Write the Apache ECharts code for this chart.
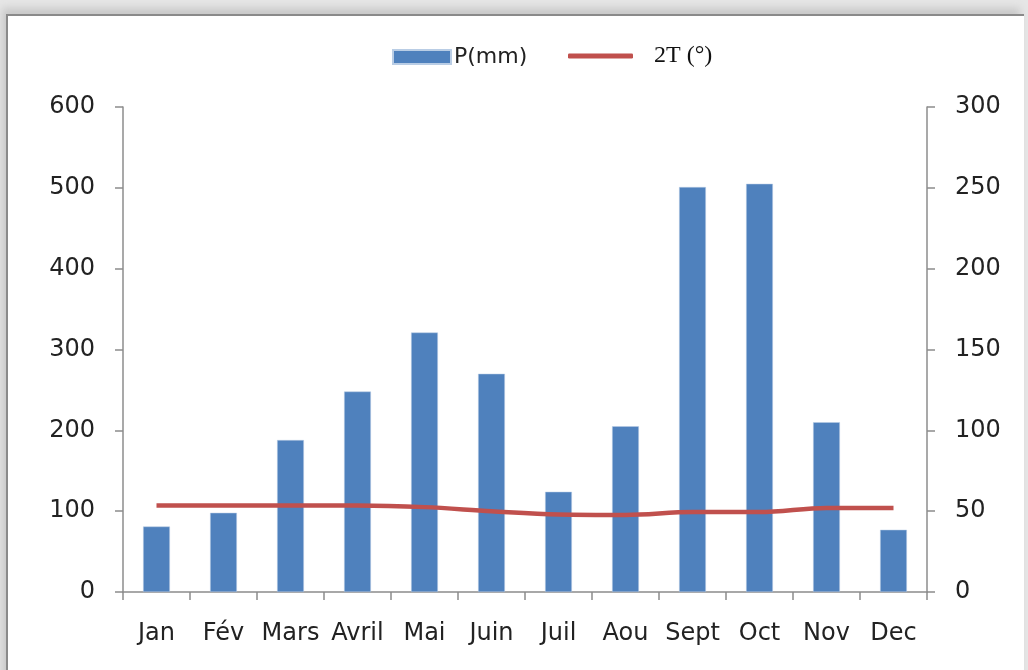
<!DOCTYPE html>
<html>
<head>
<meta charset="utf-8">
<script src="https://cdn.jsdelivr.net/npm/echarts@6/dist/echarts.min.js"></script>
<style>
    html, body { margin: 0; padding: 0; background: #e6e6e6; }
    #frame {
        position: absolute; left: 6px; top: 14px; width: 1016px; height: 670px;
        background: #fff; border-left: 2px solid #8a8a8a; border-top: 2px solid #8a8a8a;
        box-shadow: -4px -6px 8px #c8c8c8;
    }
    #chart { position: absolute; left: 0; top: 0; width: 1028px; height: 670px; }
</style>
</head>
<body>
<div id="frame"></div>
<div id="chart"></div>
<script>
// 数据
var months = ['Jan', 'Fév', 'Mars', 'Avril', 'Mai', 'Juin', 'Juil', 'Aou', 'Sept', 'Oct', 'Nov', 'Dec'];
var precip = [81, 98, 188, 248, 321, 270, 124, 205, 501, 505, 210, 77];
var temp2 = [53.5, 53.5, 53.5, 53.5, 52.5, 50, 48, 47.7, 49.5, 49.5, 52, 52];
var leftTicks = [0, 600, 100];   // min, max, interval
var rightTicks = [0, 300, 50];

var chart = echarts.init(document.getElementById('chart'));
var axisGrey = '#8c8c8c';
var tickFont = { color: '#222', fontSize: 24, fontFamily: 'DejaVu Sans' };

var option = {
    backgroundColor: 'transparent',
    animation: false,
    legend: [
        {
            top: 41,
            left: 387,
            itemWidth: 58,
            itemHeight: 14,
            itemGap: 4,
            data: [{ name: 'P(mm)', icon: 'rect' }],
            textStyle: { fontFamily: 'DejaVu Sans', fontSize: 22, color: '#222', padding: [0, 0, 0, -2] }
        },
        {
            top: 39,
            left: 563,
            itemWidth: 65,
            itemHeight: 5,
            itemGap: 0,
            data: [{ name: '2T (°)', icon: 'roundRect' }],
            textStyle: { fontFamily: 'Liberation Serif', fontSize: 24, color: '#111', padding: [0, 0, 0, 16] }
        }
    ],
    grid: { left: 123, right: 101, top: 107, bottom: 78, containLabel: false },
    xAxis: {
        type: 'category',
        data: months,
        axisLine: { lineStyle: { color: axisGrey, width: 1.5 } },
        axisTick: { show: true, length: 8, alignWithLabel: false, lineStyle: { color: axisGrey, width: 1.5 } },
        axisLabel: Object.assign({ margin: 30, interval: 0 }, tickFont)
    },
    yAxis: [
        {
            type: 'value',
            min: leftTicks[0], max: leftTicks[1], interval: leftTicks[2],
            splitLine: { show: false },
            axisLine: { show: true, lineStyle: { color: axisGrey, width: 1.5 } },
            axisTick: { show: true, length: 8, lineStyle: { color: axisGrey, width: 1.5 } },
            axisLabel: Object.assign({ margin: 28 }, tickFont)
        },
        {
            type: 'value',
            position: 'right',
            min: rightTicks[0], max: rightTicks[1], interval: rightTicks[2],
            splitLine: { show: false },
            axisLine: { show: true, lineStyle: { color: axisGrey, width: 1.5 } },
            axisTick: { show: true, length: 8, lineStyle: { color: axisGrey, width: 1.5 } },
            axisLabel: Object.assign({ margin: 28 }, tickFont)
        }
    ],
    series: [
        {
            name: 'P(mm)',
            type: 'bar',
            data: precip,
            barWidth: '40%',
            itemStyle: { color: '#4f81bd', borderColor: '#b9cde5', borderWidth: 0.5 }
        },
        {
            name: '2T (°)',
            type: 'line',
            yAxisIndex: 1,
            data: temp2,
            smooth: 0.35,
            symbol: 'none',
            lineStyle: { color: '#c0504d', width: 4.5 },
            itemStyle: { color: '#c0504d' }
        }
    ]
};
chart.setOption(option);
</script>
</body>
</html>
